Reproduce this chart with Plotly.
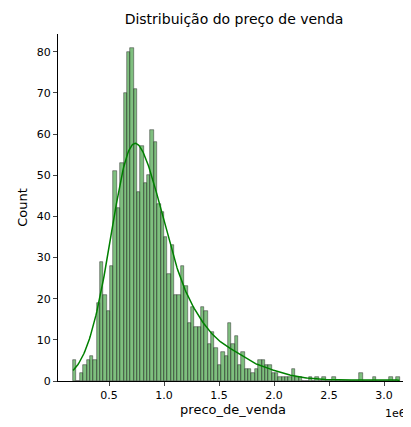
import numpy as np
import plotly.graph_objects as go

# histogram bin counts (bin width ~0.0306e6, first edge ~0.173e6)
counts = [5, 0, 2, 4, 5, 6, 5, 19, 29, 21, 17, 28, 51, 42, 53, 70, 80, 81, 71, 46,
          57, 48, 50, 61, 58, 43, 41, 35, 26, 33, 21, 21, 28, 23, 14, 18, 13, 13, 18, 17,
          9, 12, 8, 4, 7, 6, 14, 9, 11, 4, 7, 3, 3, 2, 3, 5, 5, 4, 4, 2,
          2, 1, 1, 1, 1, 3, 1, 1, 0, 0, 1, 0, 1, 0, 1, 0, 0, 1, 0, 0,
          0, 0, 0, 0, 0, 2, 0, 0, 0, 1, 0, 0, 0, 0, 1, 0, 1]
first_edge = 0.173e6
bin_width = 0.0306e6

counts = np.array(counts, dtype=float)
centers = first_edge + bin_width * (np.arange(len(counts)) + 0.5)

# kde scaled to counts, like seaborn's histplot(kde=True)
n = counts.sum()
mean = (centers * counts).sum() / n
std = np.sqrt(((centers - mean) ** 2 * counts).sum() / n)
bw = 1.4 * std * n ** (-1 / 5)
xs = np.linspace(centers[0] - bin_width / 2, centers[-1] + bin_width / 2, 400)
dens = (counts[None, :] * np.exp(-0.5 * ((xs[:, None] - centers[None, :]) / bw) ** 2)).sum(1)
dens = dens / (n * bw * np.sqrt(2 * np.pi))
kde = dens * n * bin_width

fig = go.Figure()
fig.add_trace(go.Bar(x=centers, y=counts, width=bin_width,
                     marker=dict(color="rgba(0,128,0,0.5)", line=dict(color="rgba(40,40,40,0.8)", width=0.6))))
fig.add_trace(go.Scatter(x=xs, y=kde, mode="lines", line=dict(color="green", width=1.5)))

fig.update_layout(
    width=411, height=427, showlegend=False, plot_bgcolor="white", paper_bgcolor="white",
    margin=dict(l=50, r=11, t=26, b=54), bargap=0,
    font=dict(family="DejaVu Sans", size=11, color="black"),
    title=dict(text="Distribuição do preço de venda", x=0.55, y=0.985, yanchor="top",
               font=dict(size=14)),
)
fig.update_xaxes(range=[0.036e6, 3.218e6], tickvals=[0.5e6, 1e6, 1.5e6, 2e6, 2.5e6, 3e6],
                 ticktext=["0.5", "1.0", "1.5", "2.0", "2.5", "3.0"], showline=True,
                 linecolor="black", ticks="outside", ticklen=4, showgrid=False, zeroline=False,
                 title=dict(text="preco_de_venda", standoff=2))
fig.update_yaxes(range=[0, 84.3], tickvals=list(range(0, 81, 10)), showline=True,
                 linecolor="black", ticks="outside", ticklen=4, showgrid=False, zeroline=False,
                 title=dict(text="Count", standoff=6))
fig.add_annotation(text="1e6", xref="paper", yref="paper", x=1.0, y=-0.07,
                   xanchor="right", yanchor="top", showarrow=False, font=dict(size=11))
fig.write_html("out.html")
